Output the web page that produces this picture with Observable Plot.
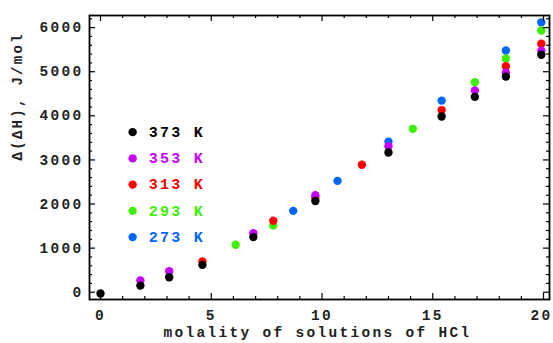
<!DOCTYPE html>
<html>
<head>
<meta charset="utf-8">
<script src="https://cdn.jsdelivr.net/npm/d3@7"></script>
<script src="https://cdn.jsdelivr.net/npm/@observablehq/plot@0.6"></script>
<style>
  body { margin: 0; background: #fff; }
  svg text { letter-spacing: 2.3px; }
</style>
</head>
<body>
<div id="chart"></div>
<script>
// Relative enthalpy Δ(ΔH) of HCl solutions vs molality, one series per temperature
const temperatures = ["373 K", "353 K", "313 K", "293 K", "273 K"];
const colors = ["#000000", "#c800ff", "#ff0000", "#3cf000", "#0066ff"];

const m373 = [0, 1.8, 3.1, 4.6, 6.9, 9.7, 13.0, 15.4, 16.9, 18.3, 19.9];
const dH373 = [-30, 150, 340, 620, 1250, 2070, 3170, 3985, 4430, 4890, 5385];

const m353 = [1.8, 3.1, 6.9, 9.7, 13.0, 16.9, 18.3, 19.9];
const dH353 = [265, 475, 1340, 2200, 3310, 4575, 4980, 5475];

const m313 = [4.6, 7.8, 9.7, 11.8, 15.4, 18.3, 19.9];
const dH313 = [700, 1620, 2140, 2890, 4130, 5125, 5635];

const m293 = [6.1, 7.8, 14.1, 16.9, 18.3, 19.9];
const dH293 = [1075, 1515, 3705, 4760, 5300, 5935];

const m273 = [8.7, 10.7, 13.0, 15.4, 18.3, 19.9];
const dH273 = [1845, 2525, 3415, 4345, 5480, 6120];

const xMajor = [0, 5, 10, 15, 20];
const yMajor = [0, 1000, 2000, 3000, 4000, 5000, 6000];
const xMinor = d3.range(0, 21, 1).filter(v => v % 5 !== 0);
const yMinor = d3.range(0, 6201, 200).filter(v => v % 1000 !== 0);

const series = [
  {t: "373 K", m: m373, h: dH373},
  {t: "353 K", m: m353, h: dH353},
  {t: "313 K", m: m313, h: dH313},
  {t: "293 K", m: m293, h: dH293},
  {t: "273 K", m: m273, h: dH273}
];
const colorOf = Object.fromEntries(temperatures.map((t, i) => [t, colors[i]]));

// legend rows placed in data space, top-left of the frame
const legend = temperatures.map((t, i) => ({t, x: 1.45, y: 3630 - i * 595}));

const W = 553, H = 343;
const mt = 15, mb = 44, ml = 89, mr = 4;
const innerW = W - ml - mr, innerH = H - mt - mb;
const font = {fontFamily: "Liberation Mono, DejaVu Sans Mono, monospace", fontWeight: "bold"};

// lowest temperature drawn first so 373 K sits on top
const dotMarks = series.slice().reverse().map(s =>
  Plot.dot(s.m.map((m, i) => ({m, h: s.h[i]})), {
    x: "m", y: "h", r: 4.2, fill: colorOf[s.t], stroke: "none"
  })
);

const tickLen = (major) => major ? 6 : 3;
const lastX = xMajor[xMajor.length - 1];

const chart = Plot.plot({
  width: W, height: H,
  marginTop: mt, marginBottom: mb, marginLeft: ml, marginRight: mr,
  x: {domain: [-0.497, 20.27], axis: null},
  y: {domain: [-165, 6275], axis: null},
  style: {background: "#fff", overflow: "visible"},
  marks: [
    ...dotMarks,
    // inward frame ticks
    Plot.ruleX(xMinor, {x: d => d, insetTop: innerH - tickLen(false), strokeWidth: 1.2}),
    Plot.ruleX(xMajor, {x: d => d, insetTop: innerH - tickLen(true), strokeWidth: 1.2}),
    Plot.ruleX(xMinor, {x: d => d, insetBottom: innerH - tickLen(false), strokeWidth: 1.2}),
    Plot.ruleX(xMajor, {x: d => d, insetBottom: innerH - tickLen(true), strokeWidth: 1.2}),
    Plot.ruleY(yMinor, {y: d => d, insetRight: innerW - tickLen(false), strokeWidth: 1.2}),
    Plot.ruleY(yMajor, {y: d => d, insetRight: innerW - tickLen(true), strokeWidth: 1.2}),
    Plot.ruleY(yMinor, {y: d => d, insetLeft: innerW - tickLen(false), strokeWidth: 1.2}),
    Plot.ruleY(yMajor, {y: d => d, insetLeft: innerW - tickLen(true), strokeWidth: 1.2}),
    Plot.frame({stroke: "#000", strokeWidth: 1.8}),
    // tick labels (the last one nudged in so it stays on the page)
    Plot.text(xMajor.filter(v => v !== lastX), {x: d => d, frameAnchor: "bottom", dy: 20, text: d => String(d),
      fontSize: 14.5, fill: "#222", ...font}),
    Plot.text([lastX], {x: d => d, frameAnchor: "bottom", dy: 20, dx: -2, text: d => String(d),
      fontSize: 14.5, fill: "#222", ...font}),
    Plot.text(yMajor, {y: d => d, frameAnchor: "left", dx: -6, textAnchor: "end", text: d => String(d),
      fontSize: 14.5, fill: "#222", ...font}),
    // axis titles
    Plot.text(["molality of solutions of HCl"], {frameAnchor: "bottom", dy: 37, dx: -2, text: d => d,
      fontSize: 14.5, fill: "#222", ...font}),
    Plot.text(["Δ(ΔH), J/mol"], {frameAnchor: "left", dx: -72, dy: 3, rotate: -90, text: d => d,
      fontSize: 14, fill: "#222", ...font}),
    // legend
    Plot.dot(legend, {x: "x", y: "y", r: 4.2, fill: d => colorOf[d.t], stroke: "none"}),
    Plot.text(legend, {x: "x", y: "y", dx: 16, textAnchor: "start", text: "t",
      fill: d => colorOf[d.t], fontSize: 15, ...font})
  ]
});

document.getElementById("chart").appendChild(chart);
</script>
</body>
</html>
